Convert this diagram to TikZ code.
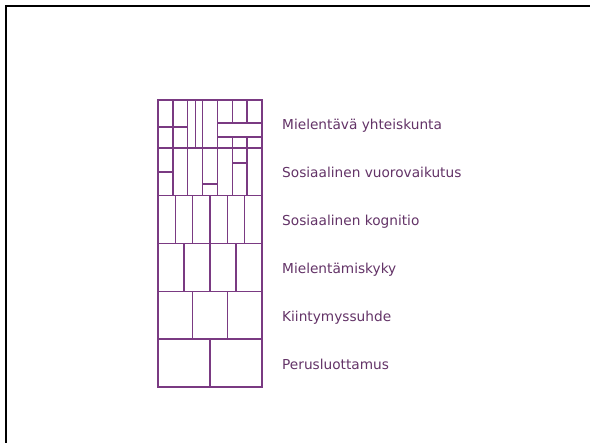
\documentclass[tikz,border=0pt]{standalone}
\usepackage{fontspec}
\setmainfont{DejaVu Sans}
\usetikzlibrary{positioning}
\definecolor{plum}{HTML}{7A3A82}
\definecolor{plumtext}{HTML}{633367}
\tikzset{
  gridline/.style={draw=plum, line width=1.4pt},
  outline/.style={draw=plum, line width=2.3pt},
  frame/.style={draw=black, line width=2.4pt},
  lvl/.style={anchor=base west, inner sep=0pt, text=plumtext,
              font=\fontsize{13.7}{16}\selectfont},
}

\begin{document}
\begin{tikzpicture}[x=1pt, y=-1pt]
  \useasboundingbox (0,0) rectangle (590,443);
  \draw[frame] (6,443) -- (6,6) -- (590,6);

  % rows 2..6: equal columns
  \def\rh{47.83}
  \foreach \n [count=\r] in {7,7,6,4,3,2} {
    \pgfmathsetmacro\ytop{100+(\r-1)*\rh}
    \pgfmathsetmacro\ybot{\ytop+\rh}
    \draw[gridline] (158,\ybot) -- (262,\ybot);
    \ifnum\r>1
      \pgfmathtruncatemacro\m{\n-1}
      \foreach \c in {1,...,\m}
        \draw[gridline] ({158+\c*104/\n},\ytop) -- ({158+\c*104/\n},\ybot);
    \fi
  }

  % top row
  \foreach \x in {172.9,187.7,195.2,202.6,217.4}
    \draw[gridline] (\x,100) -- (\x,148);
  \draw[gridline] (158,127) -- (187.7,127);
  \draw[gridline] (217.4,123) rectangle (262,137);
  \foreach \x in {232.3,247.1}
    \draw[gridline] (\x,100) -- (\x,123) (\x,137) -- (\x,148);

  % second row extras
  \draw[gridline] (158,172) -- (172.9,172);
  \draw[gridline] (202.6,184) -- (217.4,184);
  \draw[gridline] (232.3,163) -- (247.1,163);

  \draw[outline] (158,100) rectangle (262,387);

  % labels
  \foreach \txt [count=\r] in {Mielentävä yhteiskunta, Sosiaalinen vuorovaikutus,
      Sosiaalinen kognitio, Mielentämiskyky, Kiintymyssuhde, Perusluottamus}
    \node[lvl] (lbl\r) at (282,{100+(\r-1)*\rh+30}) {\txt};
\end{tikzpicture}
\end{document}
